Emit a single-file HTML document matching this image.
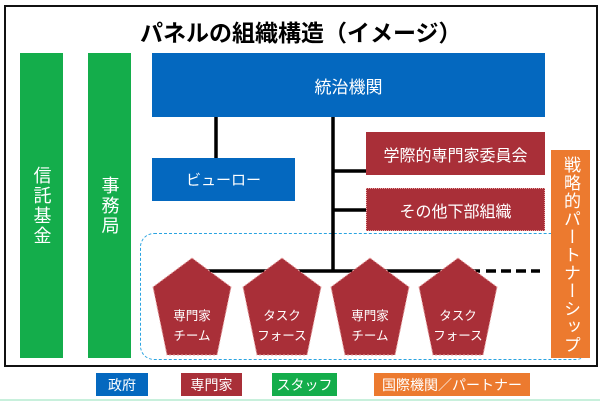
<!DOCTYPE html>
<html><head><meta charset="utf-8"><style>
body{margin:0;width:600px;height:401px;background:#fff;position:relative;overflow:hidden;font-family:"Liberation Sans","Noto Sans CJK JP",sans-serif}
.a{position:absolute;box-sizing:border-box;color:#fff;display:flex;align-items:center;justify-content:center;text-align:center}
.v{writing-mode:vertical-rl;letter-spacing:2px}
</style></head><body>
<div class="a" style="left:4px;top:5px;width:594px;height:362px;border:2px solid #111"></div>
<div class="a" style="left:140px;top:16px;width:320px;height:30px;color:#000;font-weight:bold;font-size:23px;justify-content:flex-start">パネルの組織構造（イメージ）</div>
<div class="a v" style="left:20px;top:53px;width:43px;height:305px;background:#14ad4b;font-size:18px">信託基金</div>
<div class="a v" style="left:88px;top:53px;width:43px;height:305px;background:#14ad4b;font-size:18px">事務局</div>
<div class="a" style="left:152px;top:53px;width:393px;height:64px;background:#0468bf;font-size:17px">統治機関</div>
<div class="a" style="left:152px;top:158px;width:143px;height:43px;background:#0468bf;font-size:15px">ビューロー</div>
<div class="a" style="left:366px;top:132px;width:179px;height:43px;background:#a92f38;font-size:16px">学際的専門家委員会</div>
<div class="a" style="left:366px;top:188px;width:179px;height:43px;background:#a92f38;font-size:16px;border:1px dotted #e8a0a0">その他下部組織</div>
<div class="a" style="left:140px;top:233px;width:450px;height:127px;border:1.5px dashed #2aa3e0;border-radius:14px"></div>
<div class="a v" style="left:551px;top:150px;width:39px;height:208px;background:#ec7a2f;font-size:17px;letter-spacing:1px;line-height:1;justify-content:flex-start;padding-top:6px;overflow:hidden">戦略的パートナーシップ</div>
<svg class="a" style="left:0;top:0" width="600" height="401">
<g stroke="#000" stroke-width="3.5" fill="none">
<path d="M216 117V158M333 117V271M333 171H366M333 210H366M188 271H480M189 271V298M281 271V288M367 271V288M457 271V288"/>
<path d="M486 271H540" stroke-dasharray="10 5"/>
</g>
<g fill="#a92f38" stroke="#e8a0a0" stroke-width="1" stroke-dasharray="2 2">
<polygon points="192,258 231,287 217,355 167,355 153,287"/>
<polygon points="282,258 321,287 307,355 257,355 243,287"/>
<polygon points="370,258 409,287 395,355 345,355 331,287"/>
<polygon points="458,258 497,287 483,355 433,355 419,287"/>
</g>
<g fill="#fff" font-size="12.5" text-anchor="middle" font-family="Liberation Sans,Noto Sans CJK JP,sans-serif">
<text x="192" y="320">専門家</text><text x="192" y="340">チーム</text>
<text x="282" y="320">タスク</text><text x="282" y="340">フォース</text>
<text x="370" y="320">専門家</text><text x="370" y="340">チーム</text>
<text x="458" y="320">タスク</text><text x="458" y="340">フォース</text>
</g>
</svg>
<div class="a" style="left:96px;top:373px;width:52px;height:23px;background:#0468bf;font-size:14px">政府</div>
<div class="a" style="left:181px;top:373px;width:61px;height:23px;background:#a92f38;font-size:14px">専門家</div>
<div class="a" style="left:272px;top:373px;width:65px;height:23px;background:#14ad4b;font-size:14px">スタッフ</div>
<div class="a" style="left:374px;top:373px;width:156px;height:23px;background:#ec7a2f;font-size:14px">国際機関／パートナー</div>
<div class="a" style="left:0;top:399px;width:600px;height:2px;background:#c8f0dc"></div>
</body></html>
